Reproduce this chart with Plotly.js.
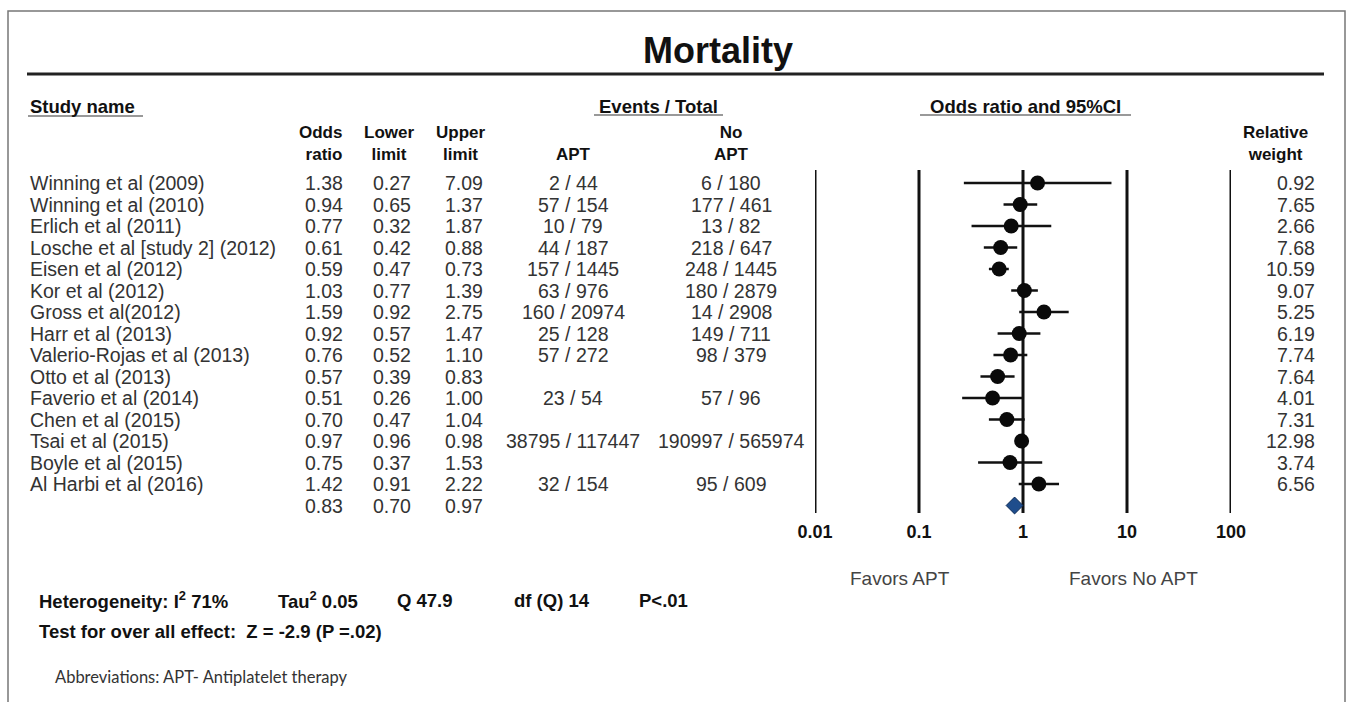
<!DOCTYPE html>
<html><head><meta charset="utf-8">
<script src="https://cdn.plot.ly/plotly-3.0.1.min.js"></script>
<style>html,body{margin:0;padding:0;background:#fff;overflow:hidden}#chart{width:1346px;height:702px}</style>
</head><body><div id="chart"></div>
<script>
// ---------------- data ----------------
const studies = ['Winning et al (2009)','Winning et al (2010)','Erlich et al (2011)','Losche et al [study 2] (2012)','Eisen et al (2012)','Kor et al (2012)','Gross et al(2012)','Harr et al (2013)','Valerio-Rojas et al (2013)','Otto et al (2013)','Faverio et al (2014)','Chen et al (2015)','Tsai et al (2015)','Boyle et al (2015)','Al Harbi et al (2016)'];
const oddsRatio  = [1.38,0.94,0.77,0.61,0.59,1.03,1.59,0.92,0.76,0.57,0.51,0.70,0.97,0.75,1.42];
const lowerLimit = [0.27,0.65,0.32,0.42,0.47,0.77,0.92,0.57,0.52,0.39,0.26,0.47,0.96,0.37,0.91];
const upperLimit = [7.09,1.37,1.87,0.88,0.73,1.39,2.75,1.47,1.10,0.83,1.00,1.04,0.98,1.53,2.22];
const aptEventsTotal   = ['2 / 44','57 / 154','10 / 79','44 / 187','157 / 1445','63 / 976','160 / 20974','25 / 128','57 / 272','','23 / 54','','38795 / 117447','','32 / 154'];
const noAptEventsTotal = ['6 / 180','177 / 461','13 / 82','218 / 647','248 / 1445','180 / 2879','14 / 2908','149 / 711','98 / 379','','57 / 96','','190997 / 565974','','95 / 609'];
const relativeWeight = [0.92,7.65,2.66,7.68,10.59,9.07,5.25,6.19,7.74,7.64,4.01,7.31,12.98,3.74,6.56];
const pooledOR = [0.83];
const pooledLower = [0.70];
const pooledUpper = [0.97];
const axisTickValues = [0.01,0.1,1,10,100];
const axisTickLabels = ['0.01','0.1','1','10','100'];

// ---------------- layout helpers ----------------
const W = 1346, H = 702;
const ROW0 = 183, ROWH = 21.5;
const rowOf = p => (p - ROW0) / ROWH;
const px = x => x / W;
const py = y => 1 - y / H;
const FONT = 'Liberation Sans, Arial, sans-serif';
const dataFont = {family: FONT, size: 19.5, color: '#333'};
const headFont = {family: FONT, size: 18.5, color: '#111', weight: 'bold'};
const head2Font = {family: FONT, size: 17, color: '#111', weight: 'bold'};

const annotations = [];
function addText(text, x, y, xanchor, font, yref, align) {
  annotations.push({text: text, x: px(x), xref: 'paper', y: y, yref: yref || 'paper',
    xanchor: xanchor, yanchor: 'middle', align: align || xanchor === 'right' ? (align || 'right') : (align || 'center'),
    showarrow: false, font: font});
}

const nRows = studies.length;
const rowIdx = studies.map((s, i) => i);

// table body
studies.forEach((s, i) => {
  addText(s, 28, i, 'left', dataFont, 'y', 'left');
  addText(oddsRatio[i].toFixed(2), 345, i, 'right', dataFont, 'y');
  addText(lowerLimit[i].toFixed(2), 413, i, 'right', dataFont, 'y');
  addText(upperLimit[i].toFixed(2), 485, i, 'right', dataFont, 'y');
  if (aptEventsTotal[i]) addText(aptEventsTotal[i], 573, i, 'center', dataFont, 'y');
  if (noAptEventsTotal[i]) addText(noAptEventsTotal[i], 731, i, 'center', dataFont, 'y');
  addText(relativeWeight[i].toFixed(2), 1317, i, 'right', dataFont, 'y');
});
addText(pooledOR[0].toFixed(2), 345, nRows, 'right', dataFont, 'y');
addText(pooledLower[0].toFixed(2), 413, nRows, 'right', dataFont, 'y');
addText(pooledUpper[0].toFixed(2), 485, nRows, 'right', dataFont, 'y');

// headers
addText('Mortality', 718, py(50), 'center', {family: FONT, size: 36, color: '#111', weight: 'bold'});
addText('Study name', 28, py(107), 'left', headFont, 'paper', 'left');
addText('Events / Total', 658, py(107), 'center', headFont);
addText('Odds ratio and 95%CI', 1025, py(107), 'center', headFont);
addText('Odds<br>ratio', 344, py(144), 'right', head2Font, 'paper', 'right');
addText('Lower<br>limit', 389, py(144), 'center', head2Font);
addText('Upper<br>limit', 461, py(144), 'center', head2Font);
addText('APT', 573, py(154), 'center', head2Font);
addText('No<br>APT', 731, py(144), 'center', head2Font);
addText('Relative<br>weight', 1275, py(144), 'center', head2Font);

// footer
addText('Favors APT', 900, py(578), 'center', {family: FONT, size: 19, color: '#444'});
addText('Favors No APT', 1133, py(578), 'center', {family: FONT, size: 19, color: '#444'});
const footFont = {family: FONT, size: 18.5, color: '#111', weight: 'bold'};
addText('Heterogeneity: I<sup>2</sup> 71%', 37, py(600), 'left', footFont, 'paper', 'left');
addText('Tau<sup>2</sup> 0.05', 276, py(600), 'left', footFont, 'paper', 'left');
addText('Q 47.9', 395, py(600), 'left', footFont, 'paper', 'left');
addText('df (Q) 14', 512, py(600), 'left', footFont, 'paper', 'left');
addText('P&lt;.01', 637, py(600), 'left', footFont, 'paper', 'left');
addText('Test for over all effect:  Z = -2.9 (P =.02)', 37, py(631), 'left', footFont, 'paper', 'left');
addText('Abbreviations: APT- Antiplatelet therapy', 53, py(677), 'left', {family: 'Lato, Open Sans, sans-serif', size: 16.5, color: '#333'}, 'paper', 'left');

// decoration shapes (paper coords)
const shapes = [
  {type: 'rect', xref: 'paper', yref: 'paper', x0: px(8), x1: px(1345), y0: -0.05, y1: py(11), line: {color: '#777', width: 1.5}},
  {type: 'line', xref: 'paper', yref: 'paper', x0: px(27), x1: px(1324), y0: py(74), y1: py(74), line: {color: '#222', width: 3}},
  {type: 'line', xref: 'paper', yref: 'paper', x0: px(28), x1: px(143), y0: py(116), y1: py(116), line: {color: '#999', width: 2}},
  {type: 'line', xref: 'paper', yref: 'paper', x0: px(594), x1: px(723), y0: py(115), y1: py(115), line: {color: '#999', width: 2}},
  {type: 'line', xref: 'paper', yref: 'paper', x0: px(920), x1: px(1131), y0: py(115), y1: py(115), line: {color: '#999', width: 2}}
];

// ---------------- traces ----------------
const yTop = rowOf(170), yBot = rowOf(513);
const refLines = {
  x: axisTickValues.flatMap(v => [v, v, null]),
  y: axisTickValues.flatMap(() => [yTop, yBot, null]),
  mode: 'lines', line: {color: '#111', width: 3}, hoverinfo: 'skip', cliponaxis: false
};
const ciLines = {
  x: rowIdx.flatMap(i => [lowerLimit[i], upperLimit[i], null]),
  y: rowIdx.flatMap(i => [i, i, null]),
  mode: 'lines', line: {color: '#111', width: 2.5}, hoverinfo: 'skip', cliponaxis: false
};
const points = {
  x: oddsRatio, y: rowIdx, mode: 'markers',
  marker: {symbol: 'circle', size: 15, color: '#0a0a0a'}, hoverinfo: 'skip', cliponaxis: false
};
const pooled = {
  x: pooledOR, y: [nRows], mode: 'markers',
  marker: {symbol: 'diamond', size: 13, color: '#1f4d8c', line: {color: '#0c2a55', width: 1}}, hoverinfo: 'skip', cliponaxis: false
};

const layout = {
  width: W, height: H, margin: {l: 0, r: 0, t: 0, b: 0},
  paper_bgcolor: '#fff', plot_bgcolor: 'rgba(0,0,0,0)',
  showlegend: false, hovermode: false,
  xaxis: {
    type: 'log', domain: [px(815), px(1231)], range: [-2, 2],
    anchor: 'free', position: py(513),
    showgrid: false, zeroline: false, showline: false, ticks: '',
    tickvals: axisTickValues, ticktext: axisTickLabels,
    tickfont: {family: FONT, size: 18, color: '#111', weight: 'bold'},
    ticklabelstandoff: 6, fixedrange: true
  },
  yaxis: {
    domain: [0, 1], range: [rowOf(H), rowOf(0)], visible: false, fixedrange: true
  },
  annotations: annotations,
  shapes: shapes
};

Plotly.newPlot('chart', [refLines, ciLines, points, pooled], layout, {staticPlot: true, displayModeBar: false});
</script>
</body></html>
